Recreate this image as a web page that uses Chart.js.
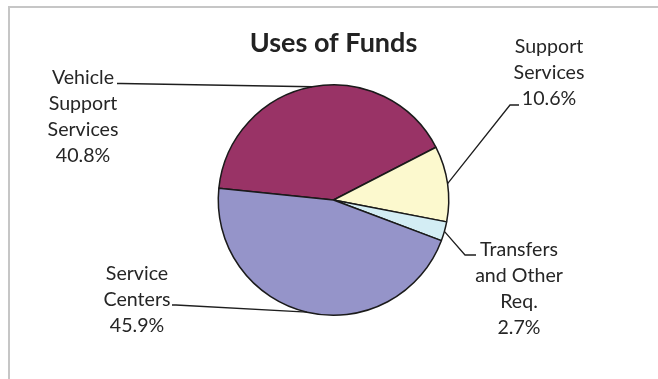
<!DOCTYPE html>
<html>
<head>
<meta charset="utf-8">
<script src="https://cdn.jsdelivr.net/npm/chart.js@4/dist/chart.umd.min.js"></script>
<style>
  html, body { margin: 0; padding: 0; background: #fff; }
  #wrap { position: relative; width: 658px; height: 379px; overflow: hidden; }
  #frame { position: absolute; left: 8px; top: 6px; right: -4px; bottom: -4px;
           border-left: 2px solid #c6c6c6; border-top: 2px solid #c6c6c6; }
  canvas { position: absolute; left: 0; top: 0; }
</style>
</head>
<body>
<div id="wrap">
  <div id="frame"></div>
  <canvas id="chart" width="658" height="379"></canvas>
</div>
<script>
// Budget uses, as a share of the total (%)
const categories = [
  ['Vehicle', 'Support', 'Services'],
  ['Support', 'Services'],
  ['Transfers', 'and Other', 'Req.'],
  ['Service', 'Centers']
];
const shares = [40.8, 10.6, 2.7, 45.9];
const sliceColors = ['#993366', '#FCF9CE', '#D3EDF4', '#9594C9'];

const FONT = 'Lato, "Open Sans", sans-serif';

// Callout placement: text centre / first baseline, and the leader's elbow + end
const calloutLayout = [
  { x: 83,  y: 84,  elbow: [121, 83.5], end: [117, 83.5] },
  { x: 549, y: 53,  elbow: [510, 105],  end: [519, 105] },
  { x: 519, y: 256, elbow: [465, 255],  end: [476, 255] },
  { x: 137, y: 280, elbow: [176, 305],  end: [172, 305] }
];

const callouts = {
  id: 'callouts',
  afterDatasetsDraw(chart) {
    const ctx = chart.ctx;
    const arcs = chart.getDatasetMeta(0).data;
    ctx.save();
    arcs.forEach((arc, i) => {
      const L = calloutLayout[i];
      const mid = (arc.startAngle + arc.endAngle) / 2;
      const sx = arc.x + Math.cos(mid) * arc.outerRadius;
      const sy = arc.y + Math.sin(mid) * arc.outerRadius;
      ctx.beginPath();
      ctx.strokeStyle = '#1e1e1e';
      ctx.lineWidth = 1.3;
      ctx.moveTo(sx, sy);
      ctx.lineTo(L.elbow[0], L.elbow[1]);
      ctx.lineTo(L.end[0], L.end[1]);
      ctx.stroke();

      const lines = categories[i].concat([shares[i].toFixed(1) + '%']);
      ctx.fillStyle = '#262626';
      ctx.font = '19.6px ' + FONT;
      ctx.textAlign = 'center';
      ctx.textBaseline = 'alphabetic';
      lines.forEach((t, k) => ctx.fillText(t, L.x, L.y + k * 26));
    });
    ctx.restore();
  }
};

new Chart(document.getElementById('chart'), {
  type: 'pie',
  data: {
    labels: categories,
    datasets: [{
      data: shares,
      backgroundColor: sliceColors,
      borderColor: '#1a1a1a',
      borderWidth: 1.5,
      hoverOffset: 0
    }]
  },
  options: {
    responsive: false,
    animation: false,
    events: [],
    rotation: -84.1,
    layout: { padding: { left: 217, right: 208, top: 0, bottom: 63 } },
    plugins: {
      legend: { display: false },
      tooltip: { enabled: false },
      title: {
        display: true,
        text: 'Uses of Funds',
        color: '#222',
        font: { family: FONT, size: 27, weight: 'bold', lineHeight: 1.2 },
        padding: { top: 27.5, bottom: 24.1 }
      }
    }
  },
  plugins: [callouts]
});
</script>
</body>
</html>
